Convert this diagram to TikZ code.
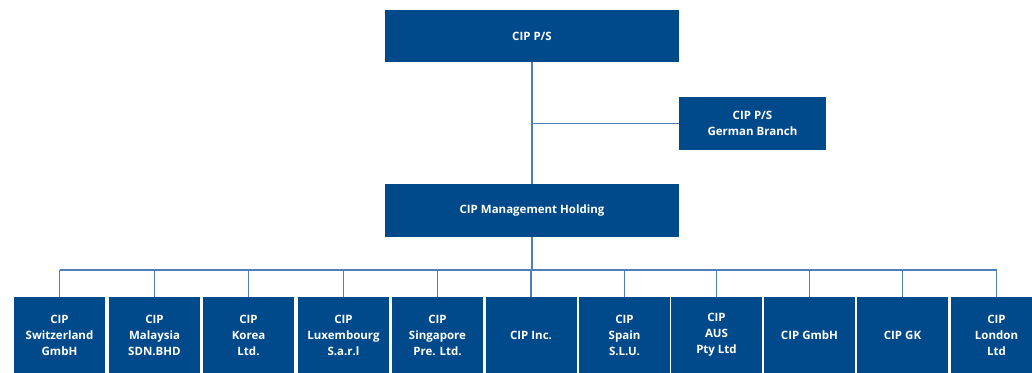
\documentclass[tikz,border=0pt]{standalone}
\usepackage{fontspec}
\setmainfont{Open Sans}
\usepackage{tikz}
\usepackage{xcolor}
\definecolor{cipblue}{HTML}{004A8C}
\definecolor{cipline}{HTML}{4C80B6}
\tikzset{
  entity/.style={rectangle, fill=cipblue, text=white, align=center, font=\fontsize{11.5}{16}\selectfont\bfseries, inner sep=0pt},
  link/.style={draw=cipline, line width=1.5pt}
}
\begin{document}
\begin{tikzpicture}[x=1pt,y=-1pt]
\useasboundingbox (0,0) rectangle (1032,372);
%\draw[help lines,step=50](0,0)grid(1032,372);
\node[entity, minimum width=294, minimum height=52] (ps) at (532,36) {CIP P/S};
\node[entity, minimum width=147, minimum height=53] (branch) at (752.5,123.5) {CIP P/S\\German Branch};
\node[entity, minimum width=294, minimum height=53] (holding) at (532,210.5) {CIP Management Holding};
\draw[link] (ps.south) -- (holding.north);
\coordinate (fork) at (ps.south |- branch.west);
\draw[link] (fork) -- (branch.west);
\coordinate (bus) at (532,270);
\draw[link] (holding.south) -- (bus);
% subsidiaries
\foreach \x/\name/\txt in {59.5/sw/{CIP\\Switzerland\\GmbH}, 154.5/my/{CIP\\Malaysia\\SDN.BHD}, 248.5/kr/{CIP\\Korea\\Ltd.},
  343.5/lu/{CIP\\Luxembourg\\S.a.r.l}, 437.5/sg/{CIP\\Singapore\\Pre. Ltd.}, 531/us/{CIP Inc.}, 624.5/es/{CIP\\Spain\\S.L.U.},
  716.5/au/{CIP\\AUS\\Pty Ltd}, 809.5/de/{CIP GmbH}, 902.5/jp/{CIP GK}, 996.5/uk/{CIP\\London\\Ltd}}
{
  \node[entity, minimum width=91, minimum height=76] (\name) at (\x,335) {\txt};
  \draw[link] (\name.north) -- (\name.north |- bus);
}
\draw[link] (sw.north |- bus) -- (uk.north |- bus);
\end{tikzpicture}
\end{document}
